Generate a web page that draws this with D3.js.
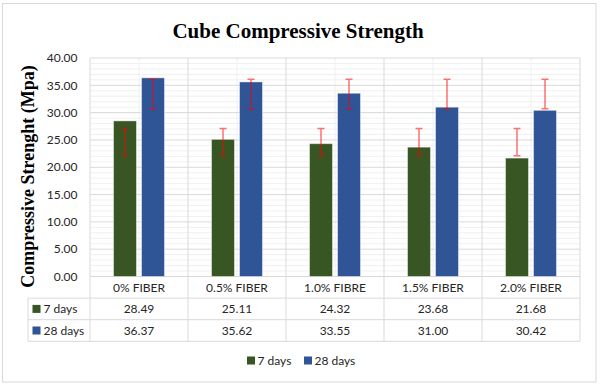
<!DOCTYPE html>
<html>
<head>
<meta charset="utf-8">
<script src="https://cdn.jsdelivr.net/npm/d3@7"></script>
<style>
  body { margin: 0; background: #fff; }
  svg text { font-family: Lato, "Open Sans", sans-serif; }
</style>
</head>
<body>
<script>
const categories = ["0% FIBER", "0.5% FIBER", "1.0% FIBRE", "1.5% FIBER", "2.0% FIBER"];
const seriesNames = ["7 days", "28 days"];
const values7 = [28.49, 25.11, 24.32, 23.68, 21.68];
const values28 = [36.37, 35.62, 33.55, 31.0, 30.42];
// error bar ends (low, high)
const err7 = [[22.1, 27.1], [22.1, 27.1], [22.1, 27.1], [22.1, 27.1], [22.1, 27.1]];
const err28 = [[30.7, 36.1], [30.7, 36.1], [30.7, 36.1], [30.7, 36.1], [30.7, 36.1]];
const yTicks = [0, 5, 10, 15, 20, 25, 30, 35, 40];

const colors = { "7 days": "#375623", "28 days": "#2f5597" };
const gridColor = "#d9d9d9";
const textColor = "#262626";
const fmt = d3.format(".2f");

const width = 600, height = 387;
const plot = { left: 90, right: 580, top: 58, bottom: 276.5 };
const table = { left: 28, rowH: 21.6 };

const svg = d3.select("body").append("svg")
  .attr("width", width).attr("height", height);

// outer chart border
svg.append("rect")
  .attr("x", 2.5).attr("y", 3.5)
  .attr("width", 593.5).attr("height", 378.5)
  .attr("fill", "#fff").attr("stroke", gridColor);

const x0 = d3.scaleBand().domain(categories).range([plot.left, plot.right]);
const x1 = d3.scaleBand().domain(seriesNames)
  .range([0, x0.bandwidth()]).paddingInner(0.18).paddingOuter(0.84);
const y = d3.scaleLinear().domain([0, 40]).range([plot.bottom, plot.top]);

// minor horizontal grid
svg.append("g").selectAll("line")
  .data(d3.range(0, 41).filter((v) => v % 5 !== 0))
  .join("line")
  .attr("x1", plot.left).attr("x2", plot.right)
  .attr("y1", (d) => y(d)).attr("y2", (d) => y(d))
  .attr("stroke", "#f0f0f0");

// minor vertical grid (category centres)
svg.append("g").selectAll("line")
  .data(categories)
  .join("line")
  .attr("x1", (d) => x0(d) + x0.bandwidth() / 2)
  .attr("x2", (d) => x0(d) + x0.bandwidth() / 2)
  .attr("y1", plot.top).attr("y2", plot.bottom)
  .attr("stroke", "#f0f0f0");

// major horizontal grid
svg.append("g").selectAll("line")
  .data(yTicks)
  .join("line")
  .attr("x1", plot.left).attr("x2", plot.right)
  .attr("y1", (d) => y(d)).attr("y2", (d) => y(d))
  .attr("stroke", gridColor);

const tableBottom = plot.bottom + table.rowH * 3;

// category boundaries run through the data table
svg.append("g").selectAll("line")
  .data(categories.concat(["end"]))
  .join("line")
  .attr("x1", (d) => (d === "end" ? plot.right : x0(d)))
  .attr("x2", (d) => (d === "end" ? plot.right : x0(d)))
  .attr("y1", plot.top).attr("y2", tableBottom)
  .attr("stroke", gridColor);

// table rows
[1, 2, 3].forEach((r) => {
  svg.append("line")
    .attr("x1", table.left).attr("x2", plot.right)
    .attr("y1", plot.bottom + table.rowH * r).attr("y2", plot.bottom + table.rowH * r)
    .attr("stroke", gridColor);
});
svg.append("line")
  .attr("x1", table.left).attr("x2", table.left)
  .attr("y1", plot.bottom + table.rowH).attr("y2", tableBottom)
  .attr("stroke", gridColor);

// bars
const seriesData = [
  { name: "7 days", values: values7, err: err7 },
  { name: "28 days", values: values28, err: err28 },
];

const groups = svg.append("g").selectAll("g")
  .data(seriesData)
  .join("g");

groups.selectAll("rect")
  .data((s) => s.values.map((v, i) => ({ name: s.name, cat: categories[i], v })))
  .join("rect")
  .attr("x", (d) => x0(d.cat) + x1(d.name))
  .attr("y", (d) => y(d.v))
  .attr("width", x1.bandwidth())
  .attr("height", (d) => y(0) - y(d.v))
  .attr("fill", (d) => colors[d.name])
  .attr("stroke", "#ffffff")
  .attr("stroke-opacity", 0.45)
  .attr("stroke-width", 1);

// error bars
const errs = seriesData.flatMap((s) =>
  s.err.map((e, i) => ({ name: s.name, cat: categories[i], lo: e[0], hi: e[1] })));
const eg = svg.append("g")
  .attr("stroke", "#ff0000")
  .attr("stroke-opacity", 0.55)
  .attr("stroke-width", 1.5);
errs.forEach((d) => {
  const cx = x0(d.cat) + x1(d.name) + x1.bandwidth() / 2;
  eg.append("path")
    .attr("fill", "none")
    .attr("d", `M${cx},${y(d.hi)}V${y(d.lo)}M${cx - 3.5},${y(d.hi)}H${cx + 3.5}M${cx - 3.5},${y(d.lo)}H${cx + 3.5}`);
});

// y tick labels
svg.append("g").selectAll("text")
  .data(yTicks)
  .join("text")
  .attr("x", 77.5)
  .attr("y", (d) => y(d))
  .attr("dy", "0.35em")
  .attr("text-anchor", "end")
  .attr("font-size", 12)
  .attr("fill", textColor)
  .text((d) => fmt(d));

// category labels
svg.append("g").selectAll("text")
  .data(categories)
  .join("text")
  .attr("x", (d) => x0(d) + x0.bandwidth() / 2)
  .attr("y", plot.bottom + table.rowH / 2)
  .attr("dy", "0.35em")
  .attr("text-anchor", "middle")
  .attr("font-size", 12)
  .attr("fill", textColor)
  .text((d) => d);

// data table rows
seriesData.forEach((s, r) => {
  const cy = plot.bottom + table.rowH * (r + 1.5);
  svg.append("rect")
    .attr("x", 32.5).attr("y", cy - 4).attr("width", 8).attr("height", 8)
    .attr("fill", colors[s.name]);
  svg.append("text")
    .attr("x", 43.5).attr("y", cy).attr("dy", "0.35em")
    .attr("font-size", 12).attr("fill", textColor)
    .text(s.name);
  svg.append("g").selectAll("text")
    .data(s.values)
    .join("text")
    .attr("x", (d, i) => x0(categories[i]) + x0.bandwidth() / 2)
    .attr("y", cy)
    .attr("dy", "0.35em")
    .attr("text-anchor", "middle")
    .attr("font-size", 12)
    .attr("fill", textColor)
    .text((d) => fmt(d));
});

// legend
const legendY = 360.5;
const legendX = [247, 304];
seriesNames.forEach((name, i) => {
  svg.append("rect")
    .attr("x", legendX[i]).attr("y", legendY - 4)
    .attr("width", 8).attr("height", 8)
    .attr("fill", colors[name]);
  svg.append("text")
    .attr("x", legendX[i] + 10.5).attr("y", legendY).attr("dy", "0.35em")
    .attr("font-size", 12).attr("fill", textColor)
    .text(name);
});

// title
svg.append("text")
  .attr("x", 298).attr("y", 37.5)
  .attr("text-anchor", "middle")
  .style("font-family", "'Liberation Serif', 'Times New Roman', serif")
  .attr("font-weight", "bold")
  .attr("font-size", 21)
  .attr("fill", "#000")
  .text("Cube Compressive Strength");

// y axis title
svg.append("text")
  .attr("transform", "translate(34,176.5) rotate(-90)")
  .attr("text-anchor", "middle")
  .style("font-family", "'Liberation Serif', 'Times New Roman', serif")
  .attr("font-weight", "bold")
  .attr("font-size", 18)
  .attr("fill", "#000")
  .text("Compressive Strenght (Mpa)");
</script>
</body>
</html>
